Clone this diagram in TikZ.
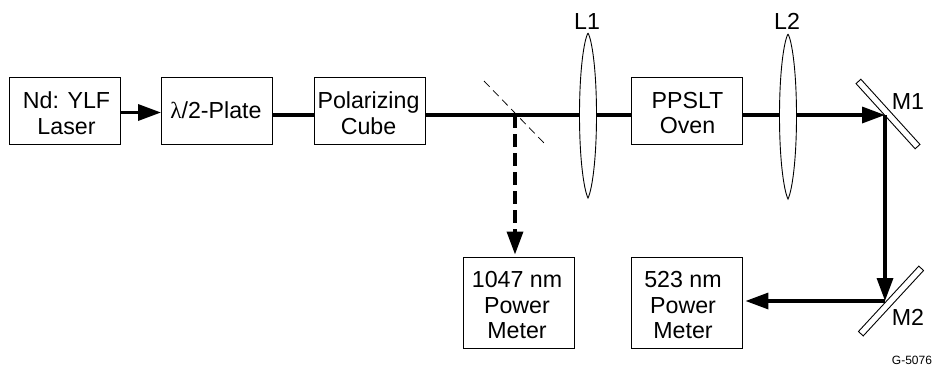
\documentclass[tikz,border=0pt]{standalone}
\usepackage{fontspec}
\setmainfont{Liberation Sans}
\newfontfamily\greekserif{Liberation Serif}
\usetikzlibrary{arrows.meta,calc}
\tikzset{
  x=1pt,y=-1pt,
  box/.style={draw,line width=0.9pt,inner sep=0pt,fill=white,minimum width=111pt},
  short/.style={box,minimum height=67pt},
  tall/.style={box,minimum height=91pt},
  boxtext/.style={inner sep=0pt,align=center,font=\fontsize{23.2}{25.5}\selectfont},
  lbl/.style={inner sep=0pt,font=\fontsize{23.2}{25}\selectfont},
  beam/.style={line width=3.4pt},
  tip/.style={-{Triangle[length=23pt,width=16pt]}},
  thinline/.style={line width=0.75pt},
  mirror/.style={draw,line width=0.9pt,fill=white,inner sep=0pt,minimum height=6.5pt},
  lensline/.style={draw,line width=0.9pt,fill=white},
}
\begin{document}
\begin{tikzpicture}
\useasboundingbox (0,0) rectangle (935,368);
% boxes
\node[short,label={[boxtext,xshift=1.5pt,yshift=-2.5pt]center:{Nd: YLF\\Laser}}] (laser) at (65,110.5) {};
\node[short,label={[boxtext,xshift=-1pt]center:{{\greekserif λ}/2-Plate}}] (plate) at (217,110.5) {};
\node[short,label={[boxtext,xshift=-1pt,yshift=-2.5pt]center:{Polarizing\\Cube}}] (cube) at (369.5,110.5) {};
\node[short,label={[boxtext,xshift=1pt,yshift=-2.5pt]center:{PPSLT\\Oven}}] (oven) at (686.5,110.5) {};
\node[tall,label={[boxtext,xshift=-2pt,yshift=-3pt]center:{1047 nm\\Power\\Meter}}] (m1047) at (519,302.5) {};
\node[tall,label={[boxtext,xshift=-3.5pt,yshift=-3pt]center:{523 nm\\Power\\Meter}}] (m523) at (686.5,302.5) {};
% named beam points
\coordinate (axis) at (0,115);
\coordinate (split) at (515,115);
\coordinate (hit1) at (885,115);
\coordinate (hit2) at (885,301);
% mirrors
\node[mirror,minimum width=88pt,rotate=-47.8] (M1) at (888,114) {};
\node[mirror,minimum width=89pt,rotate=47.3] (M2) at (891,301) {};
% beam splitter
\coordinate (bsa) at (484,81);
\coordinate (bsb) at (544,143);
\draw[thinline,dash pattern=on 8pt off 5pt] (bsa) -- (bsb);
% beams
\draw[beam,tip] (laser.east |- 0,112.5) -- (plate.west |- 0,112.5);
\draw[beam] (plate.east |- axis) -- (cube.west |- axis);
\draw[beam] (cube.east |- axis) -- (oven.west |- axis);
\draw[beam,tip] (oven.east |- axis) -- (hit1);
\draw[beam,tip] (hit1) -- (hit2);
\draw[beam,tip] (hit2) -- ($(m523.east |- hit2)+(3,0)$);
\draw[beam,dash pattern=on 13pt off 6pt] (split) -- (515,235);
\draw[beam,tip] (515,232) -- ($(m1047.north -| split)+(0,-2)$);
% lenses
\path[lensline] (588,33) .. controls (592,40) and (596.5,70) .. (596.5,115) .. controls (596.5,160) and (592,190) .. (588,198) .. controls (584,190) and (579.5,160) .. (579.5,115) .. controls (579.5,70) and (584,40) .. (588,33);
\path[lensline] (788,34) .. controls (792,41) and (796.5,71) .. (796.5,116) .. controls (796.5,161) and (792,191) .. (788,199) .. controls (784,191) and (779.5,161) .. (779.5,116) .. controls (779.5,71) and (784,41) .. (788,34);
% labels
\node[lbl] (l1) at (587,22) {L1};
\node[lbl] (l2) at (787,21) {L2};
\node[lbl] (lm1) at (908,102) {M1};
\node[lbl] (lm2) at (908,317) {M2};
\node[inner sep=0pt,font=\fontsize{12}{14}\selectfont] (code) at (912,360) {G-5076};
\end{tikzpicture}
\end{document}
